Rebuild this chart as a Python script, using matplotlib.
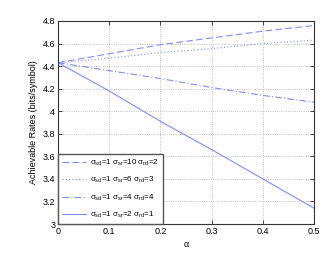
import numpy as np
import matplotlib
matplotlib.use('Agg')
import matplotlib.pyplot as plt

alpha = [0.0, 0.1, 0.2, 0.3, 0.4, 0.5]
rate_10_2 = [4.43, 4.51, 4.59, 4.65, 4.71, 4.76]
rate_6_3 = [4.43, 4.47, 4.52, 4.555, 4.60, 4.63]
rate_4_4 = [4.43, 4.36, 4.29, 4.21, 4.14, 4.08]
rate_2_1 = [4.43, 4.18, 3.91, 3.66, 3.40, 3.14]

labels = [r'$\sigma_{sd}$=1 $\sigma_{sr}$=10 $\sigma_{rd}$=2',
          r'$\sigma_{sd}$=1 $\sigma_{sr}$=6 $\sigma_{rd}$=3',
          r'$\sigma_{sd}$=1 $\sigma_{sr}$=4 $\sigma_{rd}$=4',
          r'$\sigma_{sd}$=1 $\sigma_{sr}$=2 $\sigma_{rd}$=1']

plt.rcParams['font.family'] = ['Liberation Sans', 'DejaVu Sans']
plt.rcParams['mathtext.fontset'] = 'custom'
plt.rcParams['mathtext.rm'] = 'Liberation Sans'
plt.rcParams['mathtext.it'] = 'Liberation Sans'

col = '#7f8cff'
fig = plt.figure(figsize=(3.32, 2.65), dpi=100)
ax = fig.add_axes([58/332, 1-224/265, 256/332, 203/265])

ax.plot(alpha, rate_10_2, color=col, ls=(0, (6, 3)), lw=0.8, label=labels[0])
ax.plot(alpha, rate_6_3, color=col, ls=(0, (1, 2)), lw=0.8, label=labels[1])
ax.plot(alpha, rate_4_4, color=col, ls=(0, (6, 2, 1, 2)), lw=0.8, label=labels[2])
ax.plot(alpha, rate_2_1, color=col, ls='-', lw=0.8, label=labels[3])

ax.set_xlim(0, 0.5)
ax.set_ylim(3, 4.8)
ax.set_xticks([0, 0.1, 0.2, 0.3, 0.4, 0.5])
ax.set_xticklabels(['0', '0.1', '0.2', '0.3', '0.4', '0.5'])
ax.set_yticks([3, 3.2, 3.4, 3.6, 3.8, 4, 4.2, 4.4, 4.6, 4.8])
ax.set_yticklabels(['3', '3.2', '3.4', '3.6', '3.8', '4', '4.2', '4.4', '4.6', '4.8'])
ax.tick_params(labelsize=6.5, direction='in', length=3, width=0.5, top=True, right=True, pad=2)
ax.grid(True, ls=':', color='#b0b0b0', lw=0.6)
for s in ax.spines.values():
    s.set_linewidth(0.8)
    s.set_color('#333333')

ax.set_xlabel(r'$\alpha$', fontsize=6.5, labelpad=3)
ax.set_ylabel('Achievable Rates (bits/symbol)', fontsize=6.5, labelpad=3)

leg = ax.legend(loc='lower left', fontsize=5.8, fancybox=False, framealpha=1,
                edgecolor='#555555', borderaxespad=0.0, handlelength=2.9,
                labelspacing=0.85, borderpad=0.55, handletextpad=0.5)
leg.get_frame().set_linewidth(1.0)

fig.savefig('out.png', dpi=100)
